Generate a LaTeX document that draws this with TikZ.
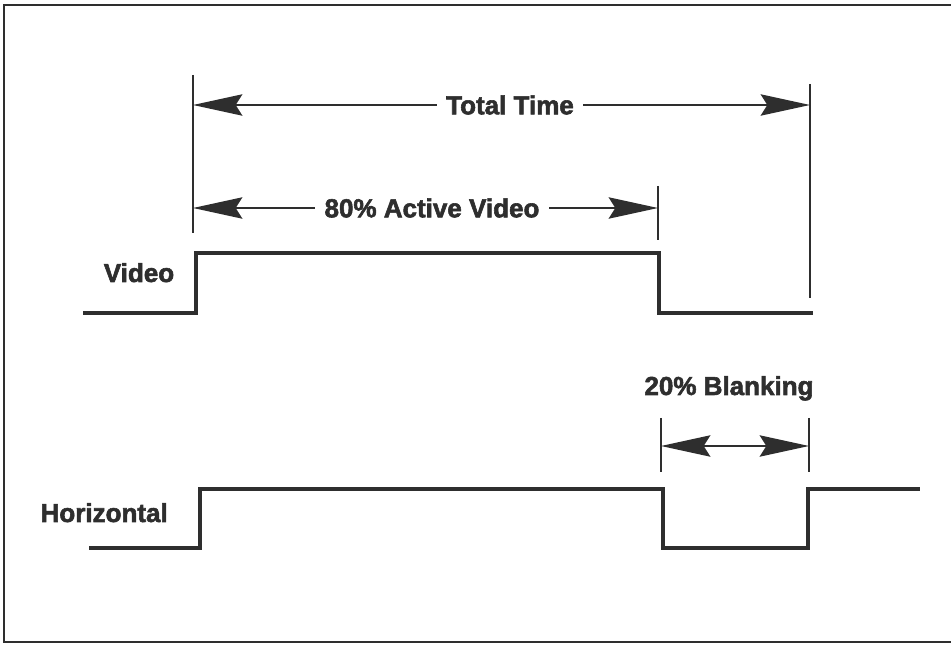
\documentclass[tikz,border=0pt]{standalone}
\usepackage{fontspec}
\newfontfamily\lblfont{Liberation Sans Bold}[FakeBold=2.2]
\usetikzlibrary{arrows.meta}
\colorlet{ink}{black!82}
\tikzset{
  sig/.style={line width=3.2pt, draw=ink, line join=miter, line cap=butt},
  ticker/.style={line width=2pt, draw=ink},
  frameline/.style={line width=1.6pt, draw=ink},
  headtip/.tip={Stealth[length=37pt,width=16pt,inset=5pt]},
  dimline/.style={line width=1.5pt, draw=ink, fill=ink, -headtip},
  dimboth/.style={line width=1.5pt, draw=ink, fill=ink, headtip-headtip},
  lbl/.style={font=\lblfont\fontsize{19.5}{22}\selectfont, text=ink, inner sep=0pt},
  dlbl/.style={lbl, inner xsep=7pt}
}
\begin{document}
\begin{tikzpicture}[x=0.75pt,y=-0.75pt]
\useasboundingbox (0,0) rectangle (951,645);
% frame (open at the right)
\draw[frameline] (951,5) -- (4,5) -- (4,642) -- (951,642);

% ticks
\coordinate (tl1) at (193,75);  \coordinate (tl2) at (193,233);
\coordinate (tr1) at (810,84);  \coordinate (tr2) at (810,298);
\coordinate (ta1) at (658,186); \coordinate (ta2) at (658,240);
\coordinate (tb1) at (661,418); \coordinate (tb2) at (661,472);
\coordinate (tc1) at (809,418); \coordinate (tc2) at (809,472);
\draw[ticker] (tl1) -- (tl2);
\draw[ticker] (tr1) -- (tr2);
\draw[ticker] (ta1) -- (ta2);
\draw[ticker] (tb1) -- (tb2);
\draw[ticker] (tc1) -- (tc2);

% Total Time
\node[dlbl] (tt) at (510,105) {Total Time};
\coordinate (ttL) at (193,105); \coordinate (ttR) at (810,105);
\draw[dimline] (tt) -- (ttL);
\draw[dimline] (tt) -- (ttR);

% 80% Active Video
\node[dlbl] (av) at (432,208) {80\% Active Video};
\coordinate (avL) at (193,208); \coordinate (avR) at (658,208);
\draw[dimline] (av) -- (avL);
\draw[dimline] (av) -- (avR);

% Video signal
\node[lbl, anchor=base] (vl) at (139,282) {Video};
\draw[sig] (83,313) -- (196,313) -- (196,253) -- (659,253) -- (659,313) -- (813,313);

% 20% Blanking
\node[lbl, anchor=base] (bl) at (729,395) {20\% Blanking};
\coordinate (bkL) at (661,446); \coordinate (bkR) at (809,446);
\draw[dimboth] (bkL) -- (bkR);

% Horizontal signal
\node[lbl, anchor=base east] (hl) at (168,522) {Horizontal};
\draw[sig] (89,548) -- (200,548) -- (200,489) -- (663,489) -- (663,548) -- (808,548) -- (808,489) -- (920,489);
\end{tikzpicture}
\end{document}
